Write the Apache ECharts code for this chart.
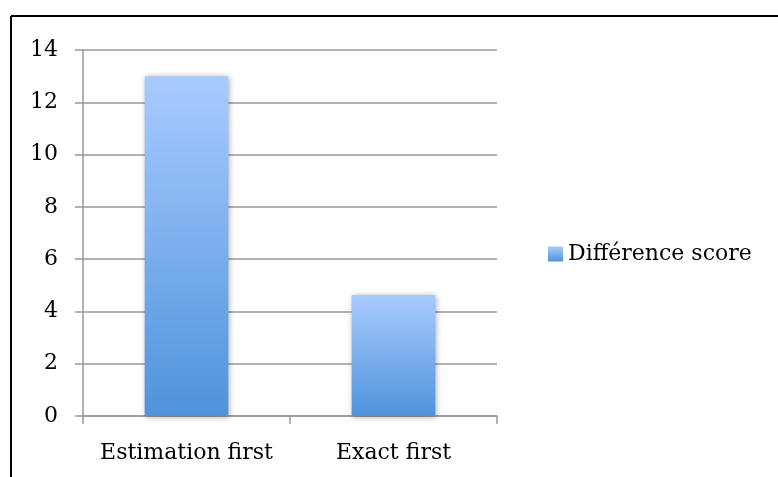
<!DOCTYPE html>
<html>
<head>
<meta charset="utf-8">
<script src="https://cdn.jsdelivr.net/npm/echarts@6/dist/echarts.min.js"></script>
<style>
html,body{margin:0;padding:0;background:#fff;}
#chart{width:778px;height:477px;}
</style>
</head>
<body>
<div id="chart"></div>
<script>
const categories = ["Estimation first", "Exact first"];
const seriesName = "Différence score";
const values = [13.0, 4.63];
const yTicks = {min: 0, max: 14, interval: 2};

const FONT = "DejaVu Serif";
const grad = new echarts.graphic.LinearGradient(0, 0, 0, 1, [
  {offset: 0, color: "#a9cbff"},
  {offset: 1, color: "#4f93db"}
]);

const chart = echarts.init(document.getElementById("chart"), null, {renderer: "canvas"});
chart.setOption({
  animation: false,
  backgroundColor: "#fff",
  textStyle: {fontFamily: FONT},
  grid: {left: 83, right: 281, top: 50, bottom: 61, containLabel: false},
  legend: {
    show: true,
    orient: "vertical",
    left: 548,
    top: 243,
    padding: 0,
    icon: "rect",
    itemWidth: 15,
    itemHeight: 15,
    itemGap: 5,
    textStyle: {fontFamily: FONT, fontSize: 22, color: "#000"},
    data: [seriesName]
  },
  xAxis: {
    type: "category",
    data: categories,
    axisLine: {lineStyle: {color: "#999", width: 1.5}},
    axisTick: {show: true, interval: 0, length: 8, lineStyle: {color: "#999", width: 1.5}},
    axisLabel: {interval: 0, hideOverlap: false, fontFamily: FONT, fontSize: 22, color: "#000", margin: 26}
  },
  yAxis: {
    type: "value",
    min: yTicks.min,
    max: yTicks.max,
    interval: yTicks.interval,
    axisLine: {show: true, lineStyle: {color: "#999", width: 1.5}},
    axisTick: {show: true, length: 8, lineStyle: {color: "#999", width: 1.5}},
    splitLine: {show: true, lineStyle: {color: "#999", width: 1.5}},
    axisLabel: {fontFamily: FONT, fontSize: 22, color: "#000", margin: 25}
  },
  series: [{
    name: seriesName,
    type: "bar",
    data: values,
    barWidth: "40.4%",
    itemStyle: {
      color: grad,
      shadowBlur: 6,
      shadowColor: "rgba(0,0,0,0.35)",
      shadowOffsetX: 1,
      shadowOffsetY: 1
    }
  }],
  graphic: [
    {type: "line", shape: {x1: 11, y1: 16, x2: 778, y2: 16}, style: {stroke: "#000", lineWidth: 2}, silent: true},
    {type: "line", shape: {x1: 11, y1: 16, x2: 11, y2: 477}, style: {stroke: "#000", lineWidth: 2}, silent: true}
  ]
});
</script>
</body>
</html>
